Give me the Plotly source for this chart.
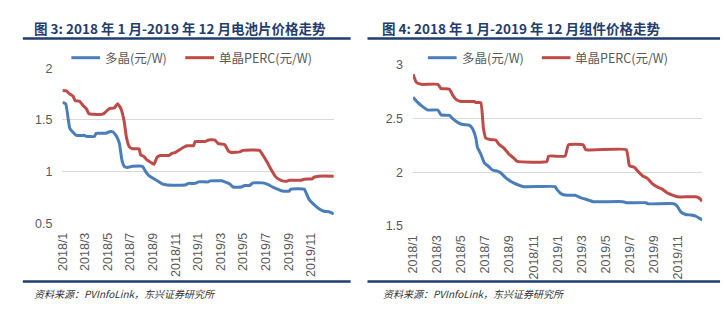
import plotly.graph_objects as go

# ---------------- data (month offset from 2018/1, value) ----------------
tick_labels = ["2018/1", "2018/3", "2018/5", "2018/7", "2018/9", "2018/11",
               "2019/1", "2019/3", "2019/5", "2019/7", "2019/9", "2019/11"]
tick_months = [0, 2, 4, 6, 8, 10, 12, 14, 16, 18, 20, 22]

# 图3 电池片
cell_poly_x = [0.00, 0.29, 0.64, 0.93, 1.23, 1.96, 2.10, 2.83, 2.98, 3.85, 4.15, 4.44, 4.73, 5.02,
               5.26, 5.46, 5.75, 6.19, 7.07, 7.36, 7.65, 8.09, 8.53, 8.82, 9.26, 10.86, 11.15,
               11.74, 12.03, 12.91, 13.05, 14.07, 14.36, 14.80, 15.09, 15.82, 16.12, 16.55,
               16.85, 17.72, 18.16, 18.60, 19.04, 19.47, 20.06, 20.20, 21.37, 21.52, 21.81,
               22.25, 22.69, 23.12, 23.56, 24.00]
cell_poly_y = [1.67, 1.655, 1.42, 1.38, 1.35, 1.35, 1.34, 1.34, 1.37, 1.37, 1.385, 1.385, 1.35, 1.28,
               1.11, 1.05, 1.04, 1.05, 1.05, 1.00, 0.96, 0.93, 0.90, 0.88, 0.87, 0.87, 0.885,
               0.885, 0.90, 0.90, 0.91, 0.91, 0.90, 0.88, 0.85, 0.85, 0.865, 0.865,
               0.89, 0.89, 0.875, 0.85, 0.83, 0.81, 0.81, 0.83, 0.83, 0.80, 0.73,
               0.68, 0.64, 0.615, 0.61, 0.59]
cell_mono_x = [0.00, 0.35, 0.64, 0.93, 1.14, 1.52, 1.81, 2.10, 2.34, 2.69, 3.56, 3.85, 4.15, 4.58,
               4.88, 5.17, 5.46, 5.66, 5.90, 6.19, 6.77, 6.92, 7.21, 7.50, 7.94, 8.09, 8.38,
               8.67, 9.40, 9.69, 9.99, 10.28, 10.72, 11.01, 11.59, 11.74, 12.61, 12.91, 13.49,
               13.78, 14.36, 14.66, 14.95, 15.68, 15.97, 17.43, 17.72, 18.16, 18.45, 18.89,
               19.33, 19.77, 20.06, 21.08, 21.37, 22.10, 22.25, 22.69, 24.00]
cell_mono_y = [1.785, 1.78, 1.75, 1.73, 1.685, 1.68, 1.64, 1.61, 1.56, 1.555, 1.555, 1.58, 1.61, 1.615,
               1.655, 1.61, 1.485, 1.33, 1.24, 1.22, 1.22, 1.16, 1.145, 1.11, 1.08, 1.07, 1.14,
               1.155, 1.155, 1.175, 1.185, 1.205, 1.235, 1.25, 1.25, 1.29, 1.29, 1.305, 1.305,
               1.27, 1.26, 1.20, 1.185, 1.19, 1.205, 1.205, 1.16, 1.08, 1.02, 0.945,
               0.915, 0.905, 0.915, 0.915, 0.925, 0.93, 0.945, 0.955, 0.955]

# 图4 组件
mod_poly_x = [0.00, 0.41, 0.82, 1.23, 2.06, 2.33, 3.02, 3.29, 3.70, 4.11, 4.66, 4.94, 5.21, 5.35,
              5.62, 5.90, 6.31, 6.58, 6.99, 7.27, 7.68, 8.09, 8.64, 9.19, 11.79, 11.93, 12.34,
              12.75, 13.44, 13.85, 14.26, 14.67, 14.95, 17.42, 17.69, 19.34, 19.47, 21.67,
              21.94, 22.22, 22.63, 23.04, 23.45, 24.00]
mod_poly_y = [2.70, 2.65, 2.61, 2.58, 2.58, 2.535, 2.53, 2.50, 2.465, 2.445, 2.44, 2.405, 2.32, 2.23,
              2.17, 2.09, 2.05, 2.02, 2.01, 1.995, 1.95, 1.915, 1.885, 1.865, 1.865, 1.84, 1.795,
              1.785, 1.785, 1.765, 1.75, 1.735, 1.725, 1.725, 1.715, 1.715, 1.705, 1.705,
              1.68, 1.63, 1.605, 1.60, 1.59, 1.555]
mod_mono_x = [0.00, 0.27, 0.69, 2.06, 2.33, 3.02, 3.29, 3.57, 3.98, 5.07, 5.21, 5.62, 5.84, 6.03,
              6.39, 6.86, 7.13, 7.54, 7.95, 8.37, 8.64, 11.11, 11.25, 12.62, 12.89, 14.12, 14.34,
              17.69, 17.96, 18.38, 18.65, 19.06, 19.47, 19.88, 20.30, 20.71, 21.12, 21.53,
              21.94, 23.45, 23.72, 24.00]
mod_mono_y = [2.915, 2.84, 2.82, 2.82, 2.78, 2.775, 2.72, 2.68, 2.66, 2.66, 2.65, 2.65, 2.41, 2.32,
              2.305, 2.30, 2.26, 2.225, 2.17, 2.13, 2.10, 2.10, 2.15, 2.15, 2.255, 2.255, 2.21,
              2.21, 2.06, 2.045, 2.01, 1.965, 1.94, 1.89, 1.86, 1.84, 1.805, 1.785,
              1.77, 1.77, 1.76, 1.73]

BLUE = "#4A7EBB"
RED = "#BE4B48"
NAVY = "#1F3D6E"
TXT = "#595959"
FONT = "Liberation Sans, Noto Sans CJK SC, sans-serif"
CJK = "Noto Sans CJK SC, sans-serif"

W, H = 725, 322

fig = go.Figure()

def add(x, y, color, name, xa, ya):
    fig.add_trace(go.Scatter(x=x, y=y, mode="lines", name=name, xaxis=xa, yaxis=ya,
                             line=dict(color=color, width=3, shape="spline", smoothing=0.4),
                             showlegend=False, hoverinfo="skip"))

add(cell_poly_x, cell_poly_y, BLUE, "多晶(元/W)", "x", "y")
add(cell_mono_x, cell_mono_y, RED, "单晶PERC(元/W)", "x", "y")
add(mod_poly_x, mod_poly_y, BLUE, "多晶(元/W)", "x2", "y2")
add(mod_mono_x, mod_mono_y, RED, "单晶PERC(元/W)", "x2", "y2")

xcommon = dict(tickmode="array", tickvals=tick_months, ticktext=tick_labels, tickangle=-90,
               showgrid=False, zeroline=False, showline=False, ticks="",
               ticklabelstandoff=6,
               tickfont=dict(family=FONT, size=12.5, color=TXT), range=[0, 24], fixedrange=True)
ycommon = dict(showgrid=True, gridcolor="#D9D9D9", gridwidth=1, zeroline=False, showline=False,
               ticks="", ticklabelstandoff=9,
               tickfont=dict(family=FONT, size=12.5, color=TXT), dtick=0.5,
               fixedrange=True)

fig.update_layout(
    width=W, height=H,
    margin=dict(l=0, r=0, t=0, b=0),
    paper_bgcolor="white", plot_bgcolor="white",
    xaxis=dict(domain=[56 / W, 330 / W], anchor="y", **xcommon),
    yaxis=dict(domain=[1 - 226 / H, 1 - 64 / H], anchor="x", range=[0.5, 2.0], **ycommon),
    xaxis2=dict(domain=[410 / W, 702 / W], anchor="y2", **xcommon),
    yaxis2=dict(domain=[1 - 228.7 / H, 1 - 60.7 / H], anchor="x2", range=[1.5, 3.0], **ycommon),
)

titles = [("图 3: 2018 年 1 月-2019 年 12 月电池片价格走势", 25),
          ("图 4: 2018 年 1 月-2019 年 12 月组件价格走势", 377)]
for t, x0 in titles:
    fig.add_annotation(x=x0 / W, y=1 - 22 / H, xref="paper", yref="paper", text="<b>" + t + "</b>",
                       showarrow=False, xanchor="left", yanchor="middle",
                       font=dict(family=CJK, size=13.5, color=NAVY))

for (a, b) in [(16, 347), (364, 720)]:
    for yy in (33, 287):
        fig.add_shape(type="line", xref="paper", yref="paper", x0=a / W, x1=b / W,
                      y0=1 - yy / H, y1=1 - yy / H, line=dict(color=NAVY, width=2.5))

for x0 in (25, 378):
    fig.add_annotation(x=x0 / W, y=1 - 299 / H, xref="paper", yref="paper",
                       text="<i>资料来源：PVInfoLink，东兴证券研究所</i>", showarrow=False,
                       xanchor="left", yanchor="middle",
                       font=dict(family=CJK, size=10, color="#333333"))

# legends
legends = [(65, 180), (425, 540)]
for (bx, rx) in legends:
    for lx, col, lab in [(bx, BLUE, "多晶(元/W)"), (rx, RED, "单晶PERC(元/W)")]:
        fig.add_shape(type="line", xref="paper", yref="paper", x0=lx / W, x1=(lx + 29) / W,
                      y0=1 - 53 / H, y1=1 - 53 / H, line=dict(color=col, width=3))
        fig.add_annotation(x=(lx + 32) / W, y=1 - 53 / H, xref="paper", yref="paper", text=lab,
                           showarrow=False, xanchor="left", yanchor="middle",
                           font=dict(family=CJK, size=12.5, color=TXT))

fig.write_html("out.html")
